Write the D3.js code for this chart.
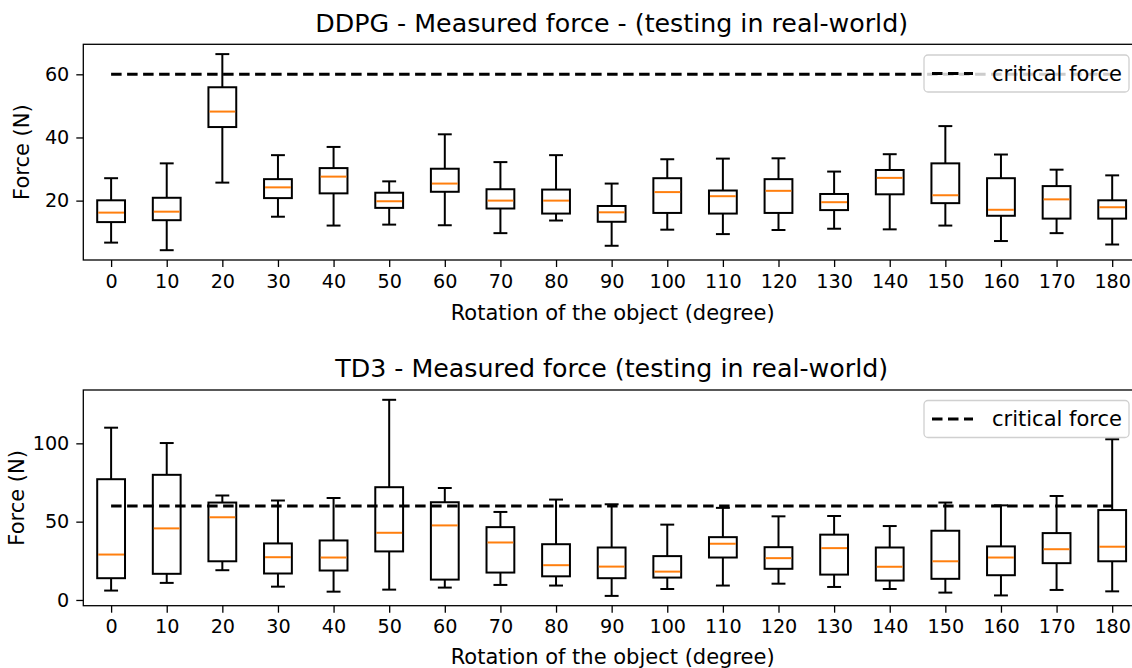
<!DOCTYPE html>
<html>
<head>
<meta charset="utf-8">
<script src="https://cdn.jsdelivr.net/npm/d3@7"></script>
<style>
  body { margin: 0; background: #fff; }
  svg { display: block; }
  text { font-family: "DejaVu Sans", sans-serif; fill: #000; }
</style>
</head>
<body>
<svg id="chart" width="1132" height="668"></svg>
<script>
// rotation of the object (degree)
var angles = [0, 10, 20, 30, 40, 50, 60, 70, 80, 90, 100, 110, 120, 130, 140, 150, 160, 170, 180];
var criticalForce = 60;

// DDPG - box stats
var ddpgLow    = [6.7, 4.3, 25.7, 14.9, 12.1, 12.4, 12.2, 9.7, 13.7, 5.7, 10.8, 9.4, 10.7, 11.1, 10.9, 12.1, 7.2, 9.7, 6.1];
var ddpgQ1     = [13.2, 13.8, 43.3, 20.8, 22.3, 17.7, 22.8, 17.5, 15.9, 13.3, 16.1, 15.9, 16.1, 17.0, 22.0, 19.2, 15.2, 14.3, 14.3];
var ddpgMedian = [16.2, 16.5, 48.2, 24.2, 27.6, 19.8, 25.4, 20.0, 20.0, 16.3, 22.7, 21.4, 23.1, 19.5, 27.2, 21.7, 17.1, 20.4, 17.9];
var ddpgQ3     = [20.1, 20.9, 55.9, 26.8, 30.3, 22.5, 30.1, 23.6, 23.5, 18.3, 27.1, 23.2, 26.8, 22.1, 29.7, 31.8, 27.1, 24.6, 20.1];
var ddpgHigh   = [27.1, 31.8, 66.4, 34.4, 37.0, 26.1, 41.0, 32.2, 34.4, 25.4, 33.1, 33.3, 33.4, 29.2, 34.7, 43.6, 34.6, 29.8, 28.0];

// TD3 - box stats
var td3Low    = [6.0, 10.9, 19.0, 8.5, 5.3, 6.6, 7.9, 9.6, 9.2, 2.6, 7.0, 9.2, 10.4, 8.3, 7.0, 4.7, 2.9, 6.4, 5.5];
var td3Q1     = [13.9, 16.7, 24.7, 16.9, 18.8, 31.0, 13.0, 17.5, 15.1, 13.9, 14.3, 27.1, 19.9, 16.2, 12.4, 13.5, 15.8, 23.5, 24.7];
var td3Median = [29.0, 45.7, 52.8, 27.3, 27.1, 42.9, 47.6, 36.7, 22.2, 21.3, 18.1, 35.9, 26.7, 33.1, 21.2, 24.7, 27.1, 32.4, 34.0];
var td3Q3     = [77.1, 79.9, 62.2, 36.1, 38.0, 72.0, 62.4, 46.5, 35.6, 33.5, 28.0, 40.1, 33.7, 41.7, 33.5, 44.2, 34.2, 42.7, 57.4];
var td3High   = [110.0, 100.2, 66.7, 63.5, 65.1, 127.8, 71.5, 56.2, 64.1, 61.1, 48.1, 58.8, 53.4, 53.6, 47.2, 62.2, 60.4, 66.4, 102.6];

var ddpgTicks = [20, 40, 60];
var td3Ticks = [0, 50, 100];

var svg = d3.select("#chart");
var left = 83.3, right = 1140;   // right spine falls just outside the picture

function pack(low, q1, med, q3, high) {
  return angles.map(function (a, i) {
    return { angle: a, low: low[i], q1: q1[i], med: med[i], q3: q3[i], high: high[i] };
  });
}

function drawPanel(cfg) {
  var data = cfg.data;
  var g = svg.append("g");

  var x = d3.scalePoint()
    .domain(angles)
    .range([left, right])
    .padding(0.5);
  var step = x.step();

  // matplotlib style 5% margins
  var lo = d3.min(data, function (d) { return d.low; });
  var hi = d3.max(data, function (d) { return d.high; });
  var pad = (hi - lo) * 0.05;
  var y = d3.scaleLinear()
    .domain([lo - pad, hi + pad])
    .range([cfg.bottom, cfg.top]);

  // title
  g.append("text")
    .attr("x", (left + right) / 2)
    .attr("y", cfg.titleY)
    .attr("text-anchor", "middle")
    .style("font-size", "25.3px")
    .text(cfg.title);

  // boxes
  var box = g.selectAll(".box").data(data).enter().append("g").attr("class", "box");
  var bw = step * 0.5, cw = step * 0.25;

  box.append("line")
    .attr("x1", function (d) { return x(d.angle); })
    .attr("x2", function (d) { return x(d.angle); })
    .attr("y1", function (d) { return y(d.high); })
    .attr("y2", function (d) { return y(d.q3); })
    .attr("stroke", "#000").attr("stroke-width", 2);
  box.append("line")
    .attr("x1", function (d) { return x(d.angle); })
    .attr("x2", function (d) { return x(d.angle); })
    .attr("y1", function (d) { return y(d.q1); })
    .attr("y2", function (d) { return y(d.low); })
    .attr("stroke", "#000").attr("stroke-width", 2);
  box.append("line")
    .attr("x1", function (d) { return x(d.angle) - cw / 2; })
    .attr("x2", function (d) { return x(d.angle) + cw / 2; })
    .attr("y1", function (d) { return y(d.high); })
    .attr("y2", function (d) { return y(d.high); })
    .attr("stroke", "#000").attr("stroke-width", 2);
  box.append("line")
    .attr("x1", function (d) { return x(d.angle) - cw / 2; })
    .attr("x2", function (d) { return x(d.angle) + cw / 2; })
    .attr("y1", function (d) { return y(d.low); })
    .attr("y2", function (d) { return y(d.low); })
    .attr("stroke", "#000").attr("stroke-width", 2);
  box.append("rect")
    .attr("x", function (d) { return x(d.angle) - bw / 2; })
    .attr("width", bw)
    .attr("y", function (d) { return y(d.q3); })
    .attr("height", function (d) { return y(d.q1) - y(d.q3); })
    .attr("fill", "none")
    .attr("stroke", "#000").attr("stroke-width", 2);
  box.append("line")
    .attr("x1", function (d) { return x(d.angle) - bw / 2 + 1; })
    .attr("x2", function (d) { return x(d.angle) + bw / 2 - 1; })
    .attr("y1", function (d) { return y(d.med); })
    .attr("y2", function (d) { return y(d.med); })
    .attr("stroke", "#ff7f0e").attr("stroke-width", 2);

  // critical force line
  g.append("line")
    .attr("x1", x(angles[0]))
    .attr("x2", x(angles[angles.length - 1]))
    .attr("y1", y(criticalForce))
    .attr("y2", y(criticalForce))
    .attr("stroke", "#000")
    .attr("stroke-width", 3)
    .attr("stroke-dasharray", "10.5,5.5");

  // spines
  g.append("rect")
    .attr("x", left).attr("y", cfg.top)
    .attr("width", right - left).attr("height", cfg.bottom - cfg.top)
    .attr("fill", "none").attr("stroke", "#000").attr("stroke-width", 1.3);

  // axes
  var xAxis = g.append("g")
    .attr("transform", "translate(0," + cfg.bottom + ")")
    .call(d3.axisBottom(x).tickSize(7).tickPadding(7));
  var yAxis = g.append("g")
    .attr("transform", "translate(" + left + ",0)")
    .call(d3.axisLeft(y).tickValues(cfg.ticks).tickSize(7).tickPadding(7));
  [xAxis, yAxis].forEach(function (a) {
    a.select(".domain").remove();
    a.attr("font-family", null).attr("font-size", null);
    a.selectAll("line").attr("stroke", "#000").attr("stroke-width", 1.3);
    a.selectAll("text").style("font-size", "19.2px").attr("fill", "#000");
  });

  // axis labels
  g.append("text")
    .attr("x", (left + right) / 2 + 1)
    .attr("y", cfg.xLabelY)
    .attr("text-anchor", "middle")
    .style("font-size", "21px")
    .text("Rotation of the object (degree)");
  g.append("text")
    .attr("transform", "translate(" + cfg.yLabelX + "," + (cfg.top + cfg.bottom) / 2 + ") rotate(-90)")
    .attr("text-anchor", "middle")
    .style("font-size", "21px")
    .text("Force (N)");

  // legend
  var lg = g.append("g").attr("transform", "translate(924," + cfg.legendY + ")");
  lg.append("rect")
    .attr("width", 205).attr("height", 37)
    .attr("rx", 4).attr("ry", 4)
    .attr("fill", "#fff").attr("fill-opacity", 0.8)
    .attr("stroke", "#d0d0d0").attr("stroke-width", 1.3);
  lg.append("line")
    .attr("x1", 8).attr("x2", 49)
    .attr("y1", 18.5).attr("y2", 18.5)
    .attr("stroke", "#000").attr("stroke-width", 3)
    .attr("stroke-dasharray", "10.5,5.5");
  lg.append("text")
    .attr("x", 68).attr("y", 25.5)
    .style("font-size", "21px")
    .text("critical force");
}

drawPanel({
  data: pack(ddpgLow, ddpgQ1, ddpgMedian, ddpgQ3, ddpgHigh),
  title: "DDPG - Measured force - (testing in real-world)",
  ticks: ddpgTicks,
  top: 44.3, bottom: 260,
  titleY: 31.5, xLabelY: 320, yLabelX: 29,
  legendY: 55
});

drawPanel({
  data: pack(td3Low, td3Q1, td3Median, td3Q3, td3High),
  title: "TD3 - Measured force (testing in real-world)",
  ticks: td3Ticks,
  top: 390, bottom: 605.7,
  titleY: 376.5, xLabelY: 664, yLabelX: 24,
  legendY: 400.5
});
</script>
</body>
</html>
